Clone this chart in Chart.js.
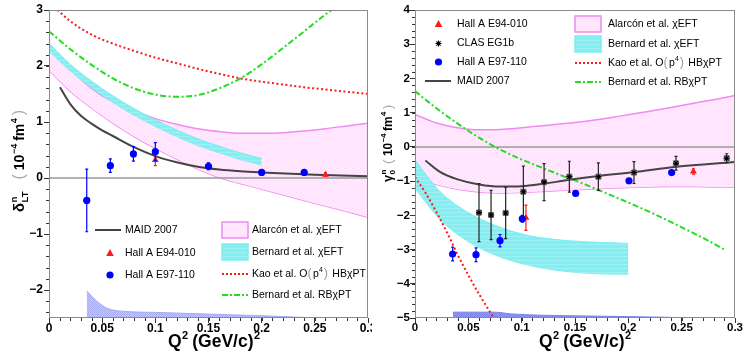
<!DOCTYPE html>
<html lang="en">
<head>
<meta charset="UTF-8">
<title>Neutron generalized polarizabilities</title>
<script src="https://cdn.jsdelivr.net/npm/chart.js"></script>
<style>
  body { margin: 0; background: #fff; }
  #wrap { position: relative; width: 744px; height: 354px; }
  .panel { position: absolute; top: 0; width: 372px; height: 354px; }
</style>
</head>
<body>
<div id="wrap">
  <div class="panel" style="left:0"><canvas id="left"></canvas></div>
  <div class="panel" style="left:372px"><canvas id="right"></canvas></div>
</div>
<script>
const FONT = "'Liberation Sans', Arial, Helvetica, sans-serif";

// ---- axes ----
const q2Ticks = [0, 0.05, 0.1, 0.15, 0.2, 0.25, 0.3];
const deltaTicks = [-2, -1, 0, 1, 2, 3];
const gammaTicks = [-5, -4, -3, -2, -1, 0, 1, 2, 3, 4];

// ---- delta_LT panel ----
const dAlarconQ2 = [0, 0.02, 0.04, 0.06, 0.08, 0.1, 0.12, 0.14, 0.16, 0.18, 0.2, 0.22, 0.24, 0.26, 0.28, 0.3];
const dAlarconHi = [2.4, 1.95, 1.6, 1.36, 1.2, 1.06, 0.96, 0.88, 0.83, 0.8, 0.8, 0.81, 0.84, 0.88, 0.93, 0.98];
const dAlarconLo = [1.93, 1.55, 1.25, 0.98, 0.74, 0.53, 0.34, 0.16, 0.01, -0.1, -0.2, -0.3, -0.4, -0.5, -0.6, -0.7];

const dBernardQ2 = [0, 0.02, 0.04, 0.06, 0.08, 0.1, 0.12, 0.14, 0.16, 0.18, 0.2];
const dBernardHi = [2.40, 2.03, 1.73, 1.47, 1.24, 1.04, 0.86, 0.70, 0.57, 0.45, 0.35];
const dBernardLo = [2.27, 1.91, 1.61, 1.35, 1.12, 0.92, 0.74, 0.58, 0.45, 0.33, 0.23];

const dKaoQ2 = [0.008, 0.02, 0.04, 0.06, 0.08, 0.1, 0.12, 0.14, 0.16, 0.18, 0.2, 0.22, 0.24, 0.26, 0.28, 0.3];
const dKao = [3.0, 2.8, 2.56, 2.4, 2.27, 2.15, 2.05, 1.95, 1.86, 1.78, 1.72, 1.67, 1.62, 1.58, 1.54, 1.5];

const dRBQ2 = [0, 0.02, 0.04, 0.06, 0.08, 0.1, 0.12, 0.14, 0.16, 0.18, 0.2, 0.22, 0.24, 0.26, 0.266];
const dRB = [2.62, 2.3, 2.02, 1.78, 1.6, 1.49, 1.45, 1.48, 1.6, 1.78, 2.03, 2.32, 2.62, 2.92, 3.0];

const dMaidQ2 = [0.0103, 0.02, 0.03, 0.04, 0.05, 0.06, 0.08, 0.1, 0.12, 0.14, 0.16, 0.18, 0.2, 0.25, 0.3];
const dMaid = [1.62, 1.32, 1.11, 0.97, 0.85, 0.75, 0.55, 0.39, 0.28, 0.2, 0.15, 0.12, 0.1, 0.06, 0.03];

const dE97Q2 = [0.0355, 0.0577, 0.0794, 0.1, 0.15, 0.2, 0.24];
const dE97 = [-0.4, 0.22, 0.43, 0.47, 0.21, 0.1, 0.1];
const dE97Err = [0.56, 0.12, 0.13, 0.16, 0.06, 0.03, 0.03];

const dE94Q2 = [0.1, 0.26];
const dE94 = [0.32, 0.06];
const dE94Err = [0.1, 0.03];

const dSysQ2 = [0.0355, 0.045, 0.055, 0.07, 0.1, 0.15, 0.2, 0.24];
const dSysTop = [-2.02, -2.2, -2.33, -2.38, -2.4, -2.43, -2.46, -2.49];
const dSysBot = [-2.5, -2.5, -2.5, -2.5, -2.5, -2.5, -2.5, -2.5];

// ---- gamma_0 panel ----
const gAlarconQ2 = [0, 0.02, 0.04, 0.06, 0.08, 0.1, 0.12, 0.14, 0.16, 0.18, 0.2, 0.22, 0.24, 0.26, 0.28, 0.3];
const gAlarconHi = [0.95, 0.7, 0.56, 0.5, 0.51, 0.56, 0.62, 0.68, 0.75, 0.84, 0.94, 1.04, 1.15, 1.27, 1.38, 1.5];
const gAlarconLo = [-0.9, -1.1, -1.24, -1.32, -1.35, -1.33, -1.3, -1.27, -1.24, -1.21, -1.19, -1.17, -1.16, -1.16, -1.17, -1.18];

const gBernardQ2 = [0, 0.0234, 0.0516, 0.08, 0.108, 0.136, 0.173, 0.2];
const gBernardHi = [-0.38, -1.3, -1.95, -2.35, -2.6, -2.72, -2.79, -2.82];
const gBernardLo = [-1.21, -2.12, -2.8, -3.22, -3.47, -3.62, -3.71, -3.72];

const gKaoQ2 = [0, 0.01, 0.02, 0.03, 0.04, 0.05, 0.06, 0.0738];
const gKao = [-0.88, -1.35, -1.9, -2.5, -3.15, -3.75, -4.3, -5.0];

const gRBQ2 = [0, 0.02, 0.04, 0.06, 0.075, 0.1, 0.12, 0.136, 0.155, 0.172, 0.195, 0.22, 0.25, 0.27, 0.29];
const gRB = [1.63, 1.13, 0.68, 0.27, 0.0, -0.37, -0.62, -0.82, -1.04, -1.26, -1.56, -1.9, -2.35, -2.66, -3.0];

const gMaidQ2 = [0.0097, 0.0234, 0.04, 0.06, 0.08, 0.1, 0.12, 0.145, 0.172, 0.205, 0.245, 0.3];
const gMaid = [-0.4, -0.73, -0.95, -1.1, -1.16, -1.15, -1.08, -0.96, -0.85, -0.74, -0.58, -0.44];

const gClasQ2 = [0.06, 0.0713, 0.085, 0.1016, 0.121, 0.1447, 0.1719, 0.2053, 0.2447, 0.2922];
const gClas = [-1.92, -1.99, -1.93, -1.31, -1.03, -0.87, -0.87, -0.75, -0.48, -0.33];
const gClasErr = [0.85, 0.72, 0.75, 0.75, 0.54, 0.45, 0.4, 0.32, 0.2, 0.13];

const gE97Q2 = [0.0353, 0.0572, 0.0797, 0.1006, 0.1506, 0.2006, 0.2406];
const gE97 = [-3.13, -3.15, -2.74, -2.1, -1.36, -0.99, -0.75];
const gE97Err = [0.2, 0.2, 0.18, 0.1, 0.05, 0.04, 0.03];

const gE94Q2 = [0.104, 0.261];
const gE94 = [-2.07, -0.72];
const gE94Err = [0.37, 0.08];

const gSysQ2 = [0.0355, 0.075, 0.09, 0.12, 0.18, 0.24];
const gSysTop = [-4.83, -4.83, -4.88, -4.92, -4.95, -4.98];
const gSysBot = [-5, -5, -5, -5, -5, -5];

// ---- legend texts ----
const legendTheory = ['Alarcón et al. χEFT', 'Bernard et al. χEFT', 'Kao et al. O(p^4) HBχPT', 'Bernard et al. RBχPT'];
const legendLeftData = ['MAID 2007', 'Hall A E94-010', 'Hall A E97-110'];
const legendRightData = ['Hall A E94-010', 'CLAS EG1b', 'Hall A E97-110', 'MAID 2007'];

// ---- styles ----
const PINK = '#f08af0', CYAN = '#7eecef', RED = '#ff1a1a', GREEN = '#22dd22', MAID = '#444444', BLUE = '#0000ff';

function pattern(bg, fg, cells) {
  const c = document.createElement('canvas');
  c.width = 4; c.height = 4;
  const g = c.getContext('2d');
  g.fillStyle = bg; g.fillRect(0, 0, 4, 4);
  g.fillStyle = fg;
  cells.forEach(([x, y]) => g.fillRect(x, y, 1, 1));
  return g.createPattern(c, 'repeat');
}
const checker = [[0,0],[2,0],[1,1],[3,1],[0,2],[2,2],[1,3],[3,3]];
const pinkFill = pattern('#fdebfc', '#f9d6f6', [[0,0],[2,2]]);
const cyanFill = pattern('#84eef1', '#9cf2f4', [[0,0],[1,0],[2,0],[3,0]]);
const sysFillL = pattern('#c6caf7', '#a5abf2', checker);
const sysFillR = pattern('#959cf0', '#7b83ea', checker);

const pts = (q, v) => q.map((x, i) => ({ x, y: v[i] }));

function curve(q, v, color, width, dash, extra) {
  return Object.assign({
    type: 'line', data: pts(q, v), borderColor: color, borderWidth: width,
    borderDash: dash || [], pointRadius: 0, fill: false, cubicInterpolationMode: 'monotone'
  }, extra || {});
}
function marks(q, v, style, color, radius, extra) {
  return Object.assign({
    type: 'line', showLine: false, data: pts(q, v), pointStyle: style, pointRadius: radius,
    backgroundColor: color, borderColor: color, borderWidth: 0
  }, extra || {});
}

// ---- plugins ----
const errorBars = {
  id: 'errorBars',
  beforeDatasetDraw(chart, args) {
    const ds = chart.data.datasets[args.index];
    if (!ds.errors) return;
    const { ctx, scales: { y } } = chart;
    ctx.save();
    ctx.strokeStyle = ds.errorColor; ctx.lineWidth = 1.2;
    args.meta.data.forEach((p, i) => {
      const v = ds.data[i].y, e = ds.errors[i];
      const t = y.getPixelForValue(v + e), b = y.getPixelForValue(v - e);
      ctx.beginPath();
      ctx.moveTo(p.x, t); ctx.lineTo(p.x, b);
      ctx.moveTo(p.x - 1.5, t); ctx.lineTo(p.x + 1.5, t);
      ctx.moveTo(p.x - 1.5, b); ctx.lineTo(p.x + 1.5, b);
      ctx.stroke();
    });
    ctx.restore();
  }
};

const frame = {
  id: 'frame',
  afterDatasetsDraw(chart, args, opts) {
    const { ctx, chartArea: a, scales: { x, y } } = chart;
    ctx.save();
    ctx.strokeStyle = '#8a8a8a'; ctx.lineWidth = 1;
    ctx.strokeRect(a.left + 0.5, a.top + 0.5, a.right - a.left - 1, a.bottom - a.top - 1);
    ctx.strokeStyle = '#333'; ctx.beginPath();
    const nx = Math.round((x.max - x.min) / opts.xMinor);
    for (let i = 0; i <= nx; i++) {
      const px = Math.round(x.getPixelForValue(x.min + i * opts.xMinor)) + 0.5;
      ctx.moveTo(px, a.bottom); ctx.lineTo(px, a.bottom + 3);
    }
    const y0 = Math.ceil(y.min / opts.yMinor - 1e-9) * opts.yMinor;
    const ny = Math.floor((y.max - y0) / opts.yMinor + 1e-9);
    for (let i = 0; i <= ny; i++) {
      const py = Math.round(y.getPixelForValue(y0 + i * opts.yMinor)) + 0.5;
      ctx.moveTo(a.left - 3, py); ctx.lineTo(a.left, py);
    }
    ctx.stroke();
    ctx.restore();
  }
};

function runs(ctx, x, y, list) {
  list.forEach(r => {
    ctx.font = (r.bold ? 'bold ' : '') + r.size + 'px ' + FONT;
    ctx.fillStyle = r.color || '#000';
    ctx.fillText(r.t, x, y + (r.dy || 0));
    x += ctx.measureText(r.t).width + (r.gap || 0);
  });
  return x;
}

// plain label -> runs: grey big parens, ^x superscripts
function labelRuns(s, size) {
  const out = []; let buf = '';
  const flush = () => { if (buf) out.push({ t: buf, size }); buf = ''; };
  for (let i = 0; i < s.length; i++) {
    const c = s[i];
    if (c === '(' || c === ')') { flush(); out.push({ t: c, size: size + 2, color: '#9a9a9a', gap: 1.5 }); }
    else if (c === '^') { flush(); out.push({ t: s[++i], size: size * 0.65, dy: -4, gap: 1 }); }
    else buf += c;
  }
  flush();
  return out;
}

function drawMarker(ctx, kind, x, y) {
  ctx.save();
  if (kind === 'line') {
    ctx.strokeStyle = MAID; ctx.lineWidth = 2;
    ctx.beginPath(); ctx.moveTo(x - 13, y); ctx.lineTo(x + 13, y); ctx.stroke();
  } else if (kind === 'kao' || kind === 'rb') {
    ctx.strokeStyle = kind === 'kao' ? RED : GREEN; ctx.lineWidth = 2;
    ctx.setLineDash(kind === 'kao' ? [2, 2] : [6, 2, 2, 2]);
    ctx.beginPath(); ctx.moveTo(x - 13, y); ctx.lineTo(x + 13, y); ctx.stroke();
  } else if (kind === 'pink' || kind === 'cyan') {
    ctx.fillStyle = kind === 'pink' ? pinkFill : cyanFill;
    ctx.fillRect(x - 13, y - 8, 26, 16);
    ctx.strokeStyle = kind === 'pink' ? PINK : CYAN; ctx.lineWidth = 1.5;
    ctx.strokeRect(x - 13, y - 8, 26, 16);
  } else if (kind === 'tri') {
    ctx.fillStyle = RED; ctx.beginPath();
    ctx.moveTo(x, y - 4); ctx.lineTo(x + 3.8, y + 3); ctx.lineTo(x - 3.8, y + 3); ctx.closePath(); ctx.fill();
  } else if (kind === 'dot') {
    ctx.fillStyle = BLUE; ctx.beginPath(); ctx.arc(x, y, 3.6, 0, Math.PI * 2); ctx.fill();
  } else if (kind === 'star') {
    ctx.strokeStyle = '#000'; ctx.lineWidth = 1.1; ctx.beginPath();
    for (let k = 0; k < 4; k++) {
      const ang = k * Math.PI / 4;
      ctx.moveTo(x - 3 * Math.cos(ang), y - 3 * Math.sin(ang));
      ctx.lineTo(x + 3 * Math.cos(ang), y + 3 * Math.sin(ang));
    }
    ctx.stroke();
  }
  ctx.restore();
}

const legendBox = {
  id: 'legendBox',
  afterDraw(chart, args, opts) {
    const ctx = chart.ctx;
    ctx.save();
    ctx.textBaseline = 'middle';
    opts.entries.forEach(e => {
      drawMarker(ctx, e.kind, e.mx, e.y);
      runs(ctx, e.tx, e.y, labelRuns(e.label, 10.5));
    });
    ctx.restore();
  }
};

const titles = {
  id: 'titles',
  afterDraw(chart, args, opts) {
    const ctx = chart.ctx;
    ctx.save();
    ctx.textBaseline = 'alphabetic';
    // x title
    runs(ctx, opts.xTitleX, 347, [
      { t: 'Q', size: 17.5, bold: true, gap: 0.5 },
      { t: '2', size: 11, bold: true, dy: -8, gap: 4 },
      { t: '(GeV/c)', size: 17.5, bold: true, gap: 0.5 },
      { t: '2', size: 11, bold: true, dy: -8 }
    ]);
    // y title (rotated)
    const s = opts.yScale;
    ctx.translate(opts.yBase, opts.yStart);
    ctx.rotate(-Math.PI / 2);
    const x1 = runs(ctx, 0, 0, [{ t: opts.sym, size: 15 * s, bold: true, gap: 0.5 }]);
    runs(ctx, x1, -7 * s, [{ t: 'n', size: 9.5 * s, bold: true }]);
    const x2 = runs(ctx, x1, 4 * s, [{ t: opts.sub, size: 9.5 * s, bold: true }]);
    runs(ctx, x2 + opts.gap, 0, [
      { t: '(', size: 16 * s, color: '#a8a8a8', gap: 4 * s },
      { t: '10', size: 14 * s, bold: true, gap: 0.5 },
      { t: '\u22124', size: 9 * s, bold: true, dy: -7 * s, gap: 3 * s },
      { t: 'fm', size: 14 * s, bold: true, gap: 0.5 },
      { t: '4', size: 9 * s, bold: true, dy: -7 * s, gap: 3 * s },
      { t: ')', size: 16 * s, color: '#a8a8a8' }
    ]);
    ctx.restore();
  }
};

function options(cfg) {
  return {
    responsive: true, maintainAspectRatio: false, animation: false,
    layout: { padding: { left: 0, right: cfg.padRight, top: 10, bottom: 0 } },
    scales: {
      x: {
        type: 'linear', min: 0, max: 0.3,
        afterBuildTicks: s => { s.ticks = q2Ticks.map(v => ({ value: v })); },
        afterFit: s => { s.height = 36; s.paddingLeft = 0; s.paddingRight = 0; },
        ticks: {
          autoSkip: false, maxRotation: 0, padding: -2, color: '#000',
          font: { family: FONT, size: cfg.tickSize, weight: 'bold' },
          callback: v => v === 0 ? '0' : String(+v.toFixed(2))
        },
        grid: { drawOnChartArea: false, tickLength: 5, tickColor: '#333' },
        border: { display: false }
      },
      y: {
        type: 'linear', min: cfg.yMin, max: cfg.yMax,
        afterBuildTicks: s => { s.ticks = cfg.yTicks.map(v => ({ value: v })); },
        afterFit: s => { s.width = cfg.yWidth; s.paddingTop = 0; s.paddingBottom = 0; },
        ticks: {
          padding: cfg.yPad, color: '#000',
          font: { family: FONT, size: cfg.tickSize, weight: 'bold' },
          callback: v => v < 0 ? '\u2212' + (-v) : String(v)
        },
        grid: { drawOnChartArea: false, tickLength: 5, tickColor: '#333' },
        border: { display: false }
      }
    },
    plugins: {
      legend: { display: false }, tooltip: { enabled: false },
      frame: { xMinor: 0.01, yMinor: 0.2 },
      legendBox: { entries: cfg.legend },
      titles: cfg.titles
    }
  };
}

const zeroLine = { type: 'line', data: [{ x: 0, y: 0 }, { x: 0.3, y: 0 }], borderColor: '#9a9a9a', borderWidth: 1.5, pointRadius: 0 };

// ---- left chart ----
new Chart(document.getElementById('left'), {
  type: 'line',
  data: {
    datasets: [
      marks(dE97Q2, dE97, 'circle', BLUE, 3.6, { errors: dE97Err, errorColor: BLUE }),
      marks(dE94Q2, dE94, 'triangle', RED, 4, { errors: dE94Err, errorColor: RED }),
      curve(dMaidQ2, dMaid, MAID, 2),
      curve(dKaoQ2, dKao, RED, 2, [2, 2.5]),
      curve(dRBQ2, dRB, GREEN, 2, [6, 2.5, 2, 2.5]),
      zeroLine,
      curve(dBernardQ2, dBernardHi, CYAN, 1, null, { fill: '+1', backgroundColor: cyanFill }),
      curve(dBernardQ2, dBernardLo, CYAN, 1),
      curve(dAlarconQ2, dAlarconHi, PINK, 1.5, null, { fill: '+1', backgroundColor: pinkFill }),
      curve(dAlarconQ2, dAlarconLo, PINK, 1.5),
      curve(dSysQ2, dSysTop, '#a3a9f2', 1, null, { fill: '+1', backgroundColor: sysFillL }),
      curve(dSysQ2, dSysBot, '#a3a9f2', 0)
    ]
  },
  options: options({
    padRight: 2, yMin: -2.5, yMax: 3, yTicks: deltaTicks, yWidth: 49, yPad: 1, tickSize: 12,
    titles: { xTitleX: 168, yBase: 24, yStart: 212, sym: 'δ', sub: 'LT', gap: 12, yScale: 1 },
    legend: [
      { kind: 'line', mx: 108, tx: 125, y: 230, label: legendLeftData[0] },
      { kind: 'tri', mx: 110, tx: 125, y: 253, label: legendLeftData[1] },
      { kind: 'dot', mx: 110, tx: 125, y: 275, label: legendLeftData[2] },
      { kind: 'pink', mx: 235, tx: 252, y: 230, label: legendTheory[0] },
      { kind: 'cyan', mx: 235, tx: 252, y: 252, label: legendTheory[1] },
      { kind: 'kao', mx: 235, tx: 252, y: 274, label: legendTheory[2] },
      { kind: 'rb', mx: 235, tx: 252, y: 295, label: legendTheory[3] }
    ]
  }),
  plugins: [errorBars, frame, legendBox, titles]
});

// ---- right chart ----
new Chart(document.getElementById('right'), {
  type: 'line',
  data: {
    datasets: [
      marks(gClasQ2, gClas, 'star', '#000', 3, { borderWidth: 1.1 }),
      marks(gClasQ2, gClas, 'rect', '#c4c4c4', 3.6, { borderColor: '#777', borderWidth: 1, errors: gClasErr, errorColor: '#222' }),
      marks(gE97Q2, gE97, 'circle', BLUE, 3.6, { errors: gE97Err, errorColor: BLUE }),
      marks(gE94Q2, gE94, 'triangle', RED, 4, { errors: gE94Err, errorColor: RED }),
      curve(gMaidQ2, gMaid, MAID, 2),
      curve(gKaoQ2, gKao, RED, 2, [2, 2.5]),
      curve(gRBQ2, gRB, GREEN, 2, [6, 2.5, 2, 2.5]),
      zeroLine,
      curve(gBernardQ2, gBernardHi, CYAN, 1, null, { fill: '+1', backgroundColor: cyanFill }),
      curve(gBernardQ2, gBernardLo, CYAN, 1),
      curve(gAlarconQ2, gAlarconHi, PINK, 1.5, null, { fill: '+1', backgroundColor: pinkFill }),
      curve(gAlarconQ2, gAlarconLo, PINK, 1.5),
      curve(gSysQ2, gSysTop, '#7a82ea', 1, null, { fill: '+1', backgroundColor: sysFillR }),
      curve(gSysQ2, gSysBot, '#7a82ea', 0)
    ]
  },
  options: options({
    padRight: 9, yMin: -5, yMax: 4, yTicks: gammaTicks, yWidth: 43, yPad: 0, tickSize: 11.5,
    titles: { xTitleX: 167, yBase: 20, yStart: 182, sym: 'γ', sub: '0', gap: 6, yScale: 0.85 },
    legend: [
      { kind: 'tri', mx: 66.5, tx: 85, y: 24, label: legendRightData[0] },
      { kind: 'star', mx: 66.5, tx: 85, y: 43.5, label: legendRightData[1] },
      { kind: 'dot', mx: 66.5, tx: 85, y: 62, label: legendRightData[2] },
      { kind: 'line', mx: 66, tx: 85, y: 81, label: legendRightData[3] },
      { kind: 'pink', mx: 216, tx: 236, y: 24, label: legendTheory[0] },
      { kind: 'cyan', mx: 216, tx: 236, y: 44, label: legendTheory[1] },
      { kind: 'kao', mx: 216, tx: 236, y: 63, label: legendTheory[2] },
      { kind: 'rb', mx: 216, tx: 236, y: 82, label: legendTheory[3] }
    ]
  }),
  plugins: [errorBars, frame, legendBox, titles]
});
</script>
</body>
</html>
